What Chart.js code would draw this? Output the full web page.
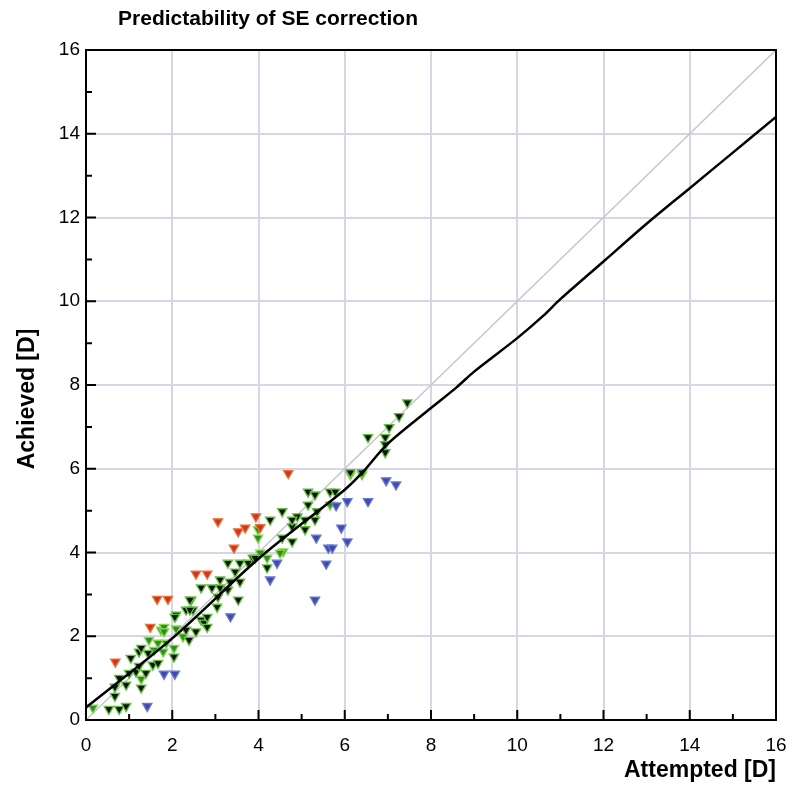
<!DOCTYPE html>
<html>
<head>
<meta charset="utf-8">
<script src="https://cdn.jsdelivr.net/npm/chart.js@4.4.1/dist/chart.umd.min.js"></script>
<style>
  html, body { margin: 0; padding: 0; background: #fff; overflow: hidden; }
</style>
</head>
<body>
<canvas id="se" width="798" height="798"></canvas>
<script>
// values, [attempted, achieved] in D
const blackPts = [
  [0.53,0.26],[0.77,0.26],[0.93,0.33],[0.67,0.57],[0.67,0.79],[0.93,0.84],[0.77,1.0],[1.0,1.12],
  [1.28,0.77],[1.16,1.15],[1.39,1.12],[1.23,1.29],[1.55,1.32],[1.67,1.36],[1.04,1.48],[1.23,1.63],
  [1.44,1.6],[1.28,1.72],[2.04,1.51],[2.09,2.51],[2.32,2.15],[2.39,1.91],[2.32,2.63],[2.48,2.63],
  [2.55,2.11],[2.44,2.87],[2.67,2.39],[2.74,2.32],[2.06,2.46],[2.41,2.87],[2.41,2.63],[2.81,2.46],
  [2.81,2.22],[3.04,2.7],[3.06,2.94],[2.67,3.16],[2.92,3.16],[3.11,3.16],[3.29,3.11],[3.53,2.87],
  [3.11,3.35],[3.34,3.3],[3.57,3.3],[3.46,3.54],[3.29,3.75],[3.57,3.75],[3.76,3.75],[3.87,3.87],
  [4.27,4.78],[4.55,4.98],[4.2,3.64],[3.92,3.87],[4.78,4.62],[4.78,4.26],[4.55,4.35],[4.9,4.86],
  [4.78,4.78],[5.08,4.78],[5.31,4.78],[5.08,4.55],[5.36,4.98],[5.15,5.14],[5.15,5.45],[5.31,5.38],
  [5.66,5.45],[5.78,5.45],[6.54,6.75],[6.94,6.75],[6.94,6.58],[6.94,6.39],[7.03,6.99],[7.26,7.25],
  [7.45,7.58],[6.13,5.91],[6.4,5.91]
];
const greenPts = [
  [0.16,0.29],[1.58,1.67],[1.79,1.63],[1.86,1.84],[1.67,1.84],[1.74,2.15],[1.81,2.22],[2.04,1.72],
  [2.09,2.18],[1.81,2.11],[2.25,1.99],[1.28,0.98],[1.46,1.91],[4.2,3.87],[4.57,4.02],[4.5,3.99],
  [3.99,4.55],[3.99,4.35],[4.04,3.99],[5.66,5.14],[6.13,5.86],[6.4,5.86]
];
const redPts = [
  [0.68,1.39],[1.65,2.89],[1.9,2.89],[1.49,2.22],[2.55,3.49],[2.81,3.49],[3.06,4.74],[3.53,4.5],
  [3.69,4.59],[3.94,4.86],[3.43,4.11],[4.04,4.6],[4.69,5.89]
];
const bluePts = [
  [1.42,0.33],[1.81,1.1],[2.06,1.1],[3.35,2.47],[4.43,3.75],[4.27,3.35],[5.31,2.87],[5.34,4.35],
  [5.57,3.73],[5.62,4.11],[5.71,4.11],[5.92,4.59],[6.06,5.22],[6.06,4.26],[6.54,5.22],[5.8,5.12],
  [6.96,5.72],[7.19,5.62]
];
const fitLine = [
  [0,0.3],[2,1.95],[4,3.85],[6,5.5],[6.4,5.9],[7,6.6],[8,7.45],[8.6,7.95],[9,8.32],[10,9.12],
  [10.6,9.65],[11,10.05],[12,10.95],[13,11.85],[14,12.7],[15,13.55],[16,14.4]
];
const idLine = [[0,0],[16,16]];
const axisMin = 0, axisMax = 16, axisStep = 2;

const FONT = '"Liberation Sans", Arial, sans-serif';
const xy = arr => arr.map(p => ({x: p[0], y: p[1]}));

function markerSet(data, fill, edge) {
  return {
    data: xy(data), showLine: false, pointStyle: 'triangle', rotation: 180,
    pointRadius: 5.4, pointBackgroundColor: fill, pointBorderColor: edge, pointBorderWidth: 1.3
  };
}

// frame, inward ticks and the free-standing texts
const decor = {
  id: 'decor',
  afterDraw(chart) {
    const {ctx, chartArea: a, scales: {x, y}} = chart;
    ctx.save();
    ctx.strokeStyle = '#000';
    ctx.lineWidth = 2;
    ctx.strokeRect(a.left, a.top, a.right - a.left, a.bottom - a.top);
    ctx.beginPath();
    for (let i = axisMin; i <= axisMax; i++) {
      const len = i % 2 === 0 ? 10 : 6;
      const px = x.getPixelForValue(i);
      ctx.moveTo(px, a.bottom); ctx.lineTo(px, a.bottom - len);
      const py = y.getPixelForValue(i);
      ctx.moveTo(a.left, py); ctx.lineTo(a.left + len, py);
    }
    ctx.stroke();

    ctx.fillStyle = '#000';
    ctx.textAlign = 'center';
    ctx.textBaseline = 'middle';
    ctx.font = 'bold 21px ' + FONT;
    ctx.fillText('Predictability of SE correction', 268, 19);

    ctx.translate(28, 399);
    ctx.rotate(-Math.PI / 2);
    ctx.font = 'bold 23px ' + FONT;
    ctx.fillText('Achieved [D]', 0, 0);
    ctx.restore();
  }
};

new Chart(document.getElementById('se'), {
  type: 'scatter',
  data: {
    datasets: [
      { data: xy(idLine), showLine: true, borderColor: '#c6c6cc', borderWidth: 1.5, pointRadius: 0, order: 5 },
      { data: xy(fitLine), showLine: true, borderColor: '#000', borderWidth: 2.5, pointRadius: 0, tension: 0.3, order: 0 },
      Object.assign(markerSet(greenPts, '#2f8a2a', '#86d84a'), {order: 3}),
      Object.assign(markerSet(blackPts, '#111', '#62c23c'), {order: 2}),
      Object.assign(markerSet(redPts, '#d2321e', '#e8733a'), {order: 1}),
      Object.assign(markerSet(bluePts, '#3b4bb0', '#6c78d0'), {order: 1})
    ]
  },
  options: {
    responsive: false,
    animation: false,
    devicePixelRatio: 1,
    layout: { padding: { top: 50, right: 22, left: 0, bottom: 0 } },
    plugins: { legend: { display: false }, tooltip: { enabled: false }, title: { display: false } },
    scales: {
      x: {
        type: 'linear', min: axisMin, max: axisMax,
        ticks: { stepSize: axisStep, color: '#000', padding: 14, font: { family: FONT, size: 19 } },
        grid: { color: '#d6d6e6', lineWidth: 2, drawTicks: false },
        border: { display: false },
        title: { display: true, text: 'Attempted [D]', align: 'end', color: '#000',
                 font: { family: FONT, size: 23, weight: 'bold' }, padding: { top: 0, bottom: 14 } },
        afterFit(s) { s.height = 78; s.paddingRight = 0; s.paddingLeft = 0; }
      },
      y: {
        type: 'linear', min: axisMin, max: axisMax,
        ticks: { stepSize: axisStep, color: '#000', padding: 6, font: { family: FONT, size: 19 } },
        grid: { color: '#d6d6e6', lineWidth: 2, drawTicks: false },
        border: { display: false },
        afterFit(s) { s.width = 86; }
      }
    }
  },
  plugins: [decor]
});
</script>
</body>
</html>
